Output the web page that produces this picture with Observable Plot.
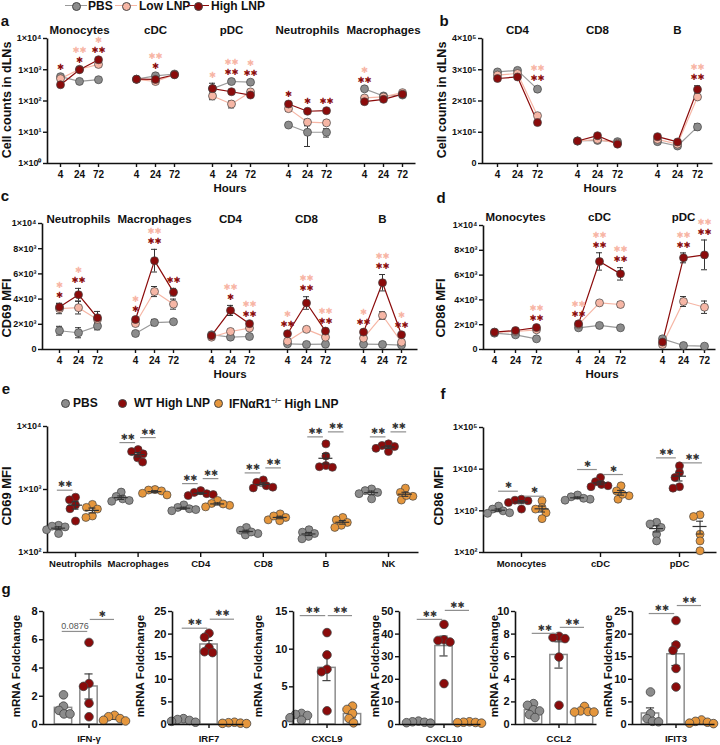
<!DOCTYPE html>
<html><head><meta charset="utf-8">
<script src="https://cdn.jsdelivr.net/npm/d3@7"></script>
<script src="https://cdn.jsdelivr.net/npm/@observablehq/plot@0.6"></script>
<style>
body{margin:0;background:#fff;}
#fig{position:relative;width:720px;height:745px;overflow:hidden;background:#fff;}
.abs{position:absolute;}
</style></head>
<body><div id="fig"></div>
<script>
// ---------------- DATA ----------------
const hours = ["4", "24", "72"];

// panel a: cell counts in dLNs (log)
const aCells = ["Monocytes", "cDC", "pDC", "Neutrophils", "Macrophages"];
const aPBS  = [[600, 424, 480], [500, 640, 730], [250, 420, 400], [17, 10, 10], [245, 145, 155]];
const aLow  = [[520, 1040, 1480], [490, 420, 700], [145, 80, 195], [57, 21, 20], [125, 135, 185]];
const aHigh = [[330, 1000, 2090], [500, 490, 690], [250, 198, 155], [80, 47, 49], [95, 113, 165]];
const aPBSErr  = [[60, 30, 40], [40, 60, 60], [120, 40, 40], [2, 6.5, 3], [20, 15, 15]];
const aLowErr  = [[60, 80, 150], [40, 50, 50], [35, 20, 40], [10, 5, 3], [15, 10, 15]];
const aHighErr = [[40, 80, 200], [40, 50, 50], [40, 30, 25], [10, 6, 4], [15, 10, 15]];
const aStars = [
  ["Monocytes", "4", "high", "*"], ["Monocytes", "24", "high", "*"], ["Monocytes", "24", "low", "**"],
  ["Monocytes", "72", "high", "**"], ["Monocytes", "72", "low", "*"],
  ["cDC", "24", "high", "*"], ["cDC", "24", "low", "**"],
  ["pDC", "4", "low", "*"], ["pDC", "24", "high", "**"], ["pDC", "24", "low", "**"],
  ["pDC", "72", "high", "**"], ["pDC", "72", "low", "*"],
  ["Neutrophils", "4", "high", "*"], ["Neutrophils", "24", "high", "*"], ["Neutrophils", "72", "high", "**"],
  ["Macrophages", "4", "high", "**"], ["Macrophages", "4", "low", "*"]
];

// panel b: cell counts (linear)
const bCells = ["CD4", "CD8", "B"];
const bPBS  = [[2.93e5, 2.98e5, 2.38e5], [0.72e5, 0.74e5, 0.70e5], [0.70e5, 0.56e5, 1.17e5]];
const bLow  = [[2.83e5, 2.88e5, 1.53e5], [0.72e5, 0.77e5, 0.65e5], [0.77e5, 0.62e5, 2.13e5]];
const bHigh = [[2.72e5, 2.77e5, 1.31e5], [0.72e5, 0.89e5, 0.62e5], [0.86e5, 0.69e5, 2.37e5]];
const bPBSErr  = [[6e3, 5e3, 8e3], [4e3, 4e3, 4e3], [4e3, 4e3, 1e4]];
const bLowErr  = [[5e3, 5e3, 6e3], [3e3, 4e3, 4e3], [4e3, 4e3, 6e3]];
const bHighErr = [[5e3, 5e3, 6e3], [3e3, 4e3, 4e3], [4e3, 4e3, 1.2e4]];
const bStars = [["CD4", "72", "high", "**"], ["CD4", "72", "low", "**"], ["B", "72", "high", "**"], ["B", "72", "low", "**"]];

// panel c: CD69 MFI
const cCells = ["Neutrophils", "Macrophages", "CD4", "CD8", "B"];
const cPBS  = [[1490, 1330, 1860], [1270, 2140, 2200], [1170, 980, 1030], [450, 400, 420], [420, 400, 350]];
const cLow  = [[3240, 3320, 2390], [2060, 4600, 3600], [980, 1430, 1700], [660, 1600, 980], [900, 2700, 580]];
const cHigh = [[3370, 4350, 2520], [2380, 7050, 4550], [1100, 3100, 2050], [1250, 3690, 1460], [1380, 5300, 1170]];
const cPBSErr  = [[350, 400, 300], [100, 250, 100], [100, 100, 100], [50, 50, 50], [50, 50, 50]];
const cLowErr  = [[400, 500, 300], [150, 400, 400], [100, 100, 150], [100, 100, 100], [100, 300, 100]];
const cHighErr = [[300, 500, 500], [150, 900, 300], [100, 400, 150], [150, 500, 150], [150, 650, 100]];
const cStars = [
  ["Neutrophils", "4", "high", "*"], ["Neutrophils", "4", "low", "*"],
  ["Neutrophils", "24", "high", "**"], ["Neutrophils", "24", "low", "*"],
  ["Macrophages", "4", "high", "*"], ["Macrophages", "4", "low", "*"],
  ["Macrophages", "24", "high", "**"], ["Macrophages", "24", "low", "**"],
  ["Macrophages", "72", "high", "**"],
  ["CD4", "24", "high", "*"], ["CD4", "24", "low", "**"],
  ["CD4", "72", "high", "**"], ["CD4", "72", "low", "**"],
  ["CD8", "4", "high", "**"], ["CD8", "4", "low", "*"],
  ["CD8", "24", "high", "**"], ["CD8", "24", "low", "**"],
  ["CD8", "72", "high", "**"], ["CD8", "72", "low", "**"],
  ["B", "4", "high", "**"], ["B", "4", "low", "*"],
  ["B", "24", "high", "**"], ["B", "24", "low", "**"],
  ["B", "72", "high", "**"], ["B", "72", "low", "*"]
];

// panel d: CD86 MFI
const dCells = ["Monocytes", "cDC", "pDC"];
const dPBS  = [[1320, 1180, 860], [1750, 1940, 1750], [860, 320, 270]];
const dLow  = [[1400, 1450, 1590], [2000, 3760, 3630], [400, 3870, 3410]];
const dHigh = [[1400, 1530, 1770], [2070, 7100, 6100], [600, 7390, 7630]];
const dPBSErr  = [[100, 100, 100], [100, 100, 100], [100, 80, 80]];
const dLowErr  = [[100, 100, 100], [150, 150, 200], [80, 400, 500]];
const dHighErr = [[100, 100, 100], [150, 700, 500], [100, 400, 1200]];
const dStars = [
  ["Monocytes", "72", "high", "**"], ["Monocytes", "72", "low", "**"],
  ["cDC", "4", "high", "**"], ["cDC", "4", "low", "**"],
  ["cDC", "24", "high", "**"], ["cDC", "24", "low", "**"],
  ["cDC", "72", "high", "**"], ["cDC", "72", "low", "**"],
  ["pDC", "24", "high", "**"], ["pDC", "24", "low", "**"],
  ["pDC", "72", "high", "**"], ["pDC", "72", "low", "**"]
];

// panel e: CD69 MFI, per-mouse values
const eCats = ["Neutrophils", "Macrophages", "CD4", "CD8", "B", "NK"];
const ePBS = [[270, 255, 230, 200, 262], [910, 775, 710, 670, 650], [570, 520, 495, 460, 480], [250, 225, 200, 190, 212], [230, 210, 200, 180, 165], [1020, 960, 860, 710, 900]];
const eWT  = [[755, 685, 570, 495, 315], [4300, 4000, 3680, 3180, 2720], [960, 900, 860, 800, 830], [1420, 1300, 1150, 1090, 1060], [5300, 3400, 2400, 2250, 2300], [5300, 5000, 4500, 4000, 4800]];
const eIFN = [[580, 520, 490, 380, 360], [1000, 980, 950, 870, 820], [670, 600, 560, 530, 590], [410, 360, 320, 330, 380], [360, 330, 300, 270, 250], [1050, 900, 780, 680, 800]];
const eSigL = ["**", "**", "**", "**", "**", "**"];
const eSigR = ["", "**", "**", "**", "**", "**"];

// panel f: CD86 MFI, per-mouse values
const fCats = ["Monocytes", "cDC", "pDC"];
const fPBS = [[1300, 1100, 1000, 900, 870], [2400, 2170, 1900, 1800, 2000], [530, 480, 400, 275, 190]];
const fWT  = [[1900, 1800, 1740, 1580, 1100], [6300, 5000, 4300, 4000, 3800], [12000, 8300, 6300, 3800, 3500]];
const fIFN = [[1740, 1200, 1100, 900, 650], [3980, 3000, 2300, 1900, 2500], [800, 730, 275, 190, 110]];
const fSigL = ["*", "*", "**"];
const fSigR = ["*", "*", "**"];

// panel g: mRNA fold change
const genes = ["IFN-γ", "IRF7", "CXCL9", "CXCL10", "CCL2", "IFIT3"];
const gMax = [8, 25, 15, 50, 10, 25];
const gTicks = [[0, 2, 4, 6, 8], [0, 5, 10, 15, 20, 25], [0, 5, 10, 15], [0, 10, 20, 30, 40, 50], [0, 2, 4, 6, 8, 10], [0, 5, 10, 15, 20, 25]];
const gPBS = [[2.1, 1.3, 1.0, 0.75, 0.75], [1.3, 1.1, 0.9, 0.7, 0.5], [1.47, 1.33, 1.2, 0.9, 0.58], [1.5, 1.2, 1.0, 0.8, 0.6], [1.85, 1.7, 1.3, 1.2, 0.88, 0.62], [7.2, 2.4, 1.3, 0.7, 0.6]];
const gWT  = [[5.81, 2.9, 2.7, 1.5, 0.55], [20.2, 19.3, 17.0, 16.1, 15.9], [12.2, 9.24, 7.33, 7.0, 1.82], [44.3, 37.5, 37.2, 36.5, 18.1], [7.8, 7.7, 7.6, 5.97, 1.7], [23.0, 17.6, 16.4, 12.4, 8.3]];
const gIFN = [[0.65, 0.55, 0.42, 0.3, 0.25], [0.5, 0.4, 0.3, 0.25, 0.2], [2.44, 2.0, 1.47, 0.8, 0.22], [1.2, 1.0, 0.9, 0.8, 0.6], [1.6, 1.2, 1.15, 1.1, 1.1], [1.0, 0.7, 0.5, 0.3, 0.2]];
const gSigL = ["0.0876", "**", "**", "**", "**", "**"];
const gSigR = ["*", "**", "**", "**", "**", "**"];

// ---------------- STYLE / LAYOUT ----------------
const FONT = '"Liberation Sans", Arial, Helvetica, sans-serif';
const baseStyle = {background: "none", overflow: "visible", fontFamily: FONT, color: "#111", maxWidth: "none"};
const COL = {PBS: "#8c8c8c", Low: "#f6b6a5", High: "#8b0b0b"};
const LINECOL = {PBS: "#9a9a9a", Low: "#f6b6a5", High: "#8b0b0b"};
const STARCOL = {low: "#f7b4a4", high: "#8b0b0b"};
const GCOL = ["#8c8c8c", "#8b0b0b", "#e5963c"];
const SUP = {"0": "⁰", "1": "¹", "2": "²", "3": "³", "4": "⁴", "5": "⁵"};
const sci = (m, e) => `${m}×10${SUP[e]}`;
const fig = document.getElementById("fig");
const STAR_FONT = '"DejaVu Sans", sans-serif';
const starTxt = t => t.replace(/\*/g, "✱");

function mount(svg, left, top) {
  const d = document.createElement("div");
  d.className = "abs";
  d.style.left = left + "px"; d.style.top = top + "px";
  d.appendChild(svg); fig.appendChild(d);
}
function label(txt, x, y, o = {}) {
  const {size = 12, weight = "bold", rotate = false, color = "#111", html = false, anchor = "center"} = o;
  const d = document.createElement("div");
  const tx = anchor === "left" ? "0" : "-50%";
  d.style.cssText = `position:absolute;left:${x}px;top:${y}px;font-family:${FONT};font-weight:${weight};font-size:${size}px;color:${color};white-space:nowrap;line-height:1;transform:translate(${tx},-50%)${rotate ? " rotate(-90deg)" : ""};`;
  if (html) d.innerHTML = txt; else d.textContent = txt;
  fig.appendChild(d);
}
function legendGlyph(x, y, color, withLine) {
  if (withLine) {
    const ln = document.createElement("div");
    ln.style.cssText = `position:absolute;left:${x - 11}px;top:${y - 0.6}px;width:22px;height:0;border-top:1.3px solid ${color === COL.PBS ? LINECOL.PBS : color};`;
    fig.appendChild(ln);
  }
  const c = document.createElement("div");
  c.style.cssText = `position:absolute;left:${x - 4.5}px;top:${y - 4.5}px;width:7.4px;height:7.4px;border-radius:50%;background:${color};border:0.8px solid #444;`;
  fig.appendChild(c);
}
function swarm(pys, minD) {
  const order = d3.range(pys.length).sort((a, b) => pys[a] - pys[b]);
  const placed = [], out = new Array(pys.length).fill(0);
  for (const i of order) {
    let best = 0;
    for (let k = 0; k < 80; k++) {
      const o = (k % 2 ? -1 : 1) * Math.ceil(k / 2) * 0.5;
      if (placed.every(([px, py]) => (px - o) ** 2 + (py - pys[i]) ** 2 >= minD * minD)) { best = o; break; }
    }
    placed.push([best, pys[i]]); out[i] = best;
  }
  return out;
}
function edgeFrame(W, H) {
  const P = W + H;
  return Plot.frame({stroke: "#111", strokeWidth: 1.6, strokeDasharray: `0 ${P} ${P}`});
}

// ---------------- time-course panels (a-d) ----------------
function timePanel(o) {
  const rows = [];
  o.cells.forEach((c, ci) => hours.forEach((h, hi) => {
    [["PBS", o.pbs, o.pbsErr], ["Low", o.low, o.lowErr], ["High", o.high, o.highErr]].forEach(([s, v, e]) => {
      rows.push({cell: c, hour: h, key: c + "|" + h, series: s, value: v[ci][hi], err: e[ci][hi]});
    });
  }));
  const keys = o.cells.flatMap((c, i) => [...(i ? ["gap" + i] : []), ...hours.map(h => c + "|" + h)]);
  const tickKeys = keys.filter(k => !k.startsWith("gap"));
  const topv = d3.rollup(rows, v => d3.max(v, d => d.value + d.err), d => d.key);
  const slot0 = [], slot1 = [];
  d3.group(o.stars.map(([c, h, s, t]) => ({key: c + "|" + h, s, t})), d => d.key).forEach((arr, k) => {
    arr.sort((a, b) => (a.s === "high" ? 0 : 1) - (b.s === "high" ? 0 : 1));
    arr.forEach((d, i) => (i ? slot1 : slot0).push({...d, y: topv.get(k)}));
  });
  const {l, r, t, b} = o.frame;
  const ml = 50, mr = 8, mt = 40, mb = 24;
  const W = r - l, H = b - t;
  const lo = o.yType === "log" ? v => Math.max(v, o.yDomain[0] * 1.02) : v => v;
  const starOpts = {x: "key", y: "y", text: d => starTxt(d.t), fill: d => STARCOL[d.s], fontSize: 8.5, fontFamily: STAR_FONT};
  const plot = Plot.plot({
    width: W + ml + mr, height: H + mt + mb,
    marginLeft: ml, marginRight: mr, marginTop: mt, marginBottom: mb,
    style: baseStyle,
    x: {type: "point", domain: keys, padding: o.pad},
    y: {type: o.yType, domain: o.yDomain},
    color: {type: "identity"},
    marks: [
      edgeFrame(W, H),
      Plot.axisY({ticks: o.yTicks, tickFormat: o.yFmt, tickSize: 4, tickPadding: 2, fontSize: 9, fontWeight: "bold", label: null, strokeWidth: 1.4}),
      Plot.axisX({ticks: tickKeys, tickFormat: k => k.split("|")[1], tickSize: 4, tickPadding: 3, fontSize: 10, fontWeight: "bold", label: null, strokeWidth: 1.4}),
      Plot.line(rows, {x: "key", y: "value", z: d => d.series + d.cell, stroke: d => LINECOL[d.series], strokeWidth: 1.2}),
      Plot.ruleX(rows, {x: "key", y1: d => lo(d.value - d.err), y2: d => d.value + d.err, stroke: "#333", strokeWidth: 1}),
      Plot.ruleY(rows, {x1: "key", x2: "key", y: d => d.value + d.err, insetLeft: -3, insetRight: -3, stroke: "#333", strokeWidth: 1}),
      Plot.ruleY(rows, {x1: "key", x2: "key", y: d => lo(d.value - d.err), insetLeft: -3, insetRight: -3, stroke: "#333", strokeWidth: 1}),
      Plot.dot(rows, {x: "key", y: "value", r: 4, fill: d => COL[d.series], stroke: "#444", strokeWidth: 0.7}),
      Plot.text(o.cells, {x: c => c + "|24", text: c => c, frameAnchor: "top", dy: o.titleDy, fontSize: 11.5, fontWeight: "bold", fill: "#111"}),
      Plot.text(slot0, {...starOpts, dy: -8}),
      Plot.text(slot1, {...starOpts, dy: -18})
    ]
  });
  mount(plot, l - ml, t - mt);
}

const fmtLog = d => sci(1, Math.round(Math.log10(d)));
const fmt1e5 = d => d === 0 ? "0" : sci(d / 1e5, 5);
const fmt1e3 = d => d === 0 ? "0" : d >= 1e4 ? sci(1, 4) : sci(d / 1e3, 3);

timePanel({cells: aCells, pbs: aPBS, low: aLow, high: aHigh, pbsErr: aPBSErr, lowErr: aLowErr, highErr: aHighErr, stars: aStars,
  yType: "log", yDomain: [1, 1e4], yTicks: [1, 10, 100, 1000, 10000], yFmt: fmtLog,
  frame: {l: 47, r: 415, t: 38, b: 163}, pad: 0.46, titleDy: -13});
timePanel({cells: bCells, pbs: bPBS, low: bLow, high: bHigh, pbsErr: bPBSErr, lowErr: bLowErr, highErr: bHighErr, stars: bStars,
  yType: "linear", yDomain: [0, 4e5], yTicks: [0, 1e5, 2e5, 3e5, 4e5], yFmt: fmt1e5,
  frame: {l: 482, r: 712, t: 38, b: 163}, pad: 0.5, titleDy: -13});
timePanel({cells: cCells, pbs: cPBS, low: cLow, high: cHigh, pbsErr: cPBSErr, lowErr: cLowErr, highErr: cHighErr, stars: cStars,
  yType: "linear", yDomain: [0, 1e4], yTicks: [0, 2e3, 4e3, 6e3, 8e3, 1e4], yFmt: fmt1e3,
  frame: {l: 42, r: 417, t: 223, b: 349}, pad: 0.67, titleDy: -9});
timePanel({cells: dCells, pbs: dPBS, low: dLow, high: dHigh, pbsErr: dPBSErr, lowErr: dLowErr, highErr: dHighErr, stars: dStars,
  yType: "linear", yDomain: [0, 1e4], yTicks: [0, 2e3, 4e3, 6e3, 8e3, 1e4], yFmt: fmt1e3,
  frame: {l: 483, r: 715, t: 225, b: 349}, pad: 0.52, titleDy: -13});

// ---------------- dot panels (e, f) ----------------
function dotPanel(o) {
  const {l, r, t, b, x0, unit} = o.frame;
  const W = r - l, H = b - t;
  const xDomain = [-(x0 - l) / unit, (r - x0) / unit];
  const ys = d3.scaleLog(o.yDomain, [H, 0]);
  const groups = [o.pbs, o.wt, o.ifn];
  const rows = [], stats = [], brL = [], brR = [];
  o.cats.forEach((c, i) => {
    groups.forEach((arr, gi) => {
      const vals = arr[i];
      const offs = swarm(vals.map(v => ys(v)), 6.5);
      const cx = i + o.off[gi];
      vals.forEach((v, k) => rows.push({gi, v, x: cx + offs[k] / unit}));
      const m = d3.mean(vals), s = d3.deviation(vals) / Math.sqrt(vals.length);
      stats.push({cx, m, lo: m - s, hi: m + s});
    });
    const mx = groups.map(a => d3.max(a[i]));
    if (o.sigL[i]) brL.push({x1: i - 0.29, x2: i - 0.04, y: Math.max(mx[0], mx[1]), t: o.sigL[i]});
    if (o.sigR[i]) brR.push({x1: i + 0.04, x2: i + 0.29, y: Math.max(mx[1], mx[2]), t: o.sigR[i]});
  });
  const hw = 7 / unit, cw = 3.5 / unit;
  const ml = 50, mr = 8, mt = 30, mb = 24;
  const sigMarks = (arr, dy) => [
    Plot.ruleY(arr, {x1: "x1", x2: "x2", y: "y", dy, stroke: "#8f8f8f", strokeWidth: 1.2}),
    Plot.text(arr, {x: d => (d.x1 + d.x2) / 2, y: "y", text: d => starTxt(d.t), dy: dy - 5.5, fontSize: 8.5, fontFamily: STAR_FONT, fill: "#333"})
  ];
  const plot = Plot.plot({
    width: W + ml + mr, height: H + mt + mb,
    marginLeft: ml, marginRight: mr, marginTop: mt, marginBottom: mb,
    style: baseStyle,
    x: {type: "linear", domain: xDomain},
    y: {type: "log", domain: o.yDomain},
    color: {type: "identity"},
    marks: [
      edgeFrame(W, H),
      Plot.axisY({ticks: o.yTicks, tickFormat: fmtLog, tickSize: 4, tickPadding: 2, fontSize: 9, fontWeight: "bold", label: null, strokeWidth: 1.4}),
      Plot.axisX({ticks: d3.range(o.cats.length), tickFormat: i => o.cats[i], tickSize: 5, tickPadding: 3, fontSize: 9.5, fontWeight: "bold", label: null, strokeWidth: 1.4}),
      Plot.dot(rows, {x: "x", y: "v", r: 4, fill: d => GCOL[d.gi], stroke: "#444", strokeWidth: 0.7}),
      Plot.ruleY(stats, {x1: d => d.cx - hw, x2: d => d.cx + hw, y: "m", stroke: "#333", strokeWidth: 1.2}),
      Plot.ruleX(stats, {x: "cx", y1: "lo", y2: "hi", stroke: "#333", strokeWidth: 1.1}),
      Plot.ruleY(stats, {x1: d => d.cx - cw, x2: d => d.cx + cw, y: "hi", stroke: "#333", strokeWidth: 1.1}),
      Plot.ruleY(stats, {x1: d => d.cx - cw, x2: d => d.cx + cw, y: "lo", stroke: "#333", strokeWidth: 1.1}),
      ...sigMarks(brL, o.dyL),
      ...sigMarks(brR, o.dyR)
    ]
  });
  mount(plot, l - ml, t - mt);
}
dotPanel({cats: eCats, pbs: ePBS, wt: eWT, ifn: eIFN, sigL: eSigL, sigR: eSigR, yDomain: [1e2, 1e4], yTicks: [1e2, 1e3, 1e4],
  frame: {l: 47, r: 418, t: 426, b: 552, x0: 75, unit: 62.6}, off: [-0.27, 0, 0.27], dyL: -7, dyR: -12});
dotPanel({cats: fCats, pbs: fPBS, wt: fWT, ifn: fIFN, sigL: fSigL, sigR: fSigR, yDomain: [1e2, 1e5], yTicks: [1e2, 1e3, 1e4, 1e5],
  frame: {l: 483, r: 716, t: 427, b: 552, x0: 521, unit: 79}, off: [-0.29, 0, 0.26], dyL: -8, dyR: -3});

// ---------------- bar charts (g) ----------------
const gLayout = [
  {ax: 43, x0: 63, r: 122, yl: 17, bl: -11, br: -23},
  {ax: 172, x0: 183, r: 243, yl: 141, bl: -5, br: -14},
  {ax: 293, x0: 301, r: 360, yl: 259, bl: -17, br: -17},
  {ax: 399, x0: 418, r: 480, yl: 376, bl: -5, br: -14},
  {ax: 515, x0: 533, r: 596, yl: 495, bl: -3, br: -9},
  {ax: 632, x0: 650, r: 714, yl: 609, bl: -7, br: -15}
];
function barChart(gi) {
  const L = gLayout[gi];
  const t = 611, b = 724, l = L.ax, r = L.r;
  const W = r - l, H = b - t, unit = 25.5;
  const xDomain = [-(L.x0 - l) / unit, (r - L.x0) / unit];
  const ys = d3.scaleLinear([0, gMax[gi]], [H, 0]);
  const groups = [gPBS[gi], gWT[gi], gIFN[gi]];
  const rows = [], stats = [];
  groups.forEach((vals, k) => {
    const offs = swarm(vals.map(v => ys(v)), 6);
    vals.forEach((v, j) => rows.push({k, v, x: k + offs[j] / unit}));
    const m = d3.mean(vals), s = d3.deviation(vals) / Math.sqrt(vals.length);
    stats.push({k, m, lo: m - s, hi: m + s});
  });
  const mx = groups.map(v => d3.max(v));
  const brs = [
    {x1: -0.05, x2: 0.95, y: Math.max(mx[0], mx[1]), t: gSigL[gi], dy: L.bl},
    {x1: 1.05, x2: 2.0, y: Math.max(mx[1], mx[2]), t: gSigR[gi], dy: L.br}
  ];
  const ml = 30, mr = 6, mt = 30, mb = 24;
  const brMarks = brs.flatMap(br => {
    const isNum = /\d/.test(br.t);
    return [
      Plot.ruleY([br], {x1: "x1", x2: "x2", y: "y", dy: br.dy, stroke: "#8f8f8f", strokeWidth: 1.2}),
      isNum
        ? Plot.text([br], {x: d => (d.x1 + d.x2) / 2, y: "y", text: "t", dy: br.dy - 2, lineAnchor: "bottom", fontSize: 9, fill: "#555"})
        : Plot.text([br], {x: d => (d.x1 + d.x2) / 2, y: "y", text: d => starTxt(d.t), dy: br.dy - 5.5, fontSize: 8.5, fontFamily: STAR_FONT, fill: "#333"})
    ];
  });
  const plot = Plot.plot({
    width: W + ml + mr, height: H + mt + mb,
    marginLeft: ml, marginRight: mr, marginTop: mt, marginBottom: mb,
    style: baseStyle,
    x: {type: "linear", domain: xDomain},
    y: {type: "linear", domain: [0, gMax[gi]]},
    color: {type: "identity"},
    marks: [
      Plot.rect(stats, {x1: d => d.k - 0.34, x2: d => d.k + 0.34, y1: 0, y2: "m", fill: "white", stroke: "#8c8c8c", strokeWidth: 1.5}),
      Plot.ruleX(stats, {x: "k", y1: "lo", y2: "hi", stroke: "#333", strokeWidth: 1.1}),
      Plot.ruleY(stats, {x1: d => d.k - 0.16, x2: d => d.k + 0.16, y: "hi", stroke: "#333", strokeWidth: 1.1}),
      Plot.ruleY(stats, {x1: d => d.k - 0.16, x2: d => d.k + 0.16, y: "lo", stroke: "#333", strokeWidth: 1.1}),
      Plot.dot(rows, {x: "x", y: "v", r: 4.3, fill: d => GCOL[d.k], stroke: "#444", strokeWidth: 0.8}),
      edgeFrame(W, H),
      Plot.axisY({ticks: gTicks[gi], tickSize: 4, tickPadding: 2, fontSize: 11, fontWeight: "bold", label: null, strokeWidth: 1.4}),
      Plot.axisX({ticks: [1], tickFormat: () => genes[gi], tickSize: 4, tickPadding: 7, fontSize: 9.5, fontWeight: "bold", label: null, strokeWidth: 1.4}),
      ...brMarks
    ]
  });
  mount(plot, l - ml, t - mt);
  label("mRNA Foldchange", L.yl, 666, {size: 11.5, rotate: true});
}
genes.forEach((g, i) => barChart(i));

// ---------------- text: letters, axis labels, legends ----------------
[["a", 5, 20], ["b", 444, 20], ["c", 5, 195], ["d", 441, 197], ["e", 6, 388], ["f", 443, 393], ["g", 6, 588]]
  .forEach(([t, x, y]) => label(t, x, y, {size: 15}));
label("Hours", 230, 189, {size: 11.5});
label("Hours", 600, 189, {size: 11.5});
label("Hours", 230, 375, {size: 11.5});
label("Hours", 602, 375, {size: 11.5});
label("Cell counts in dLNs", 7, 100, {size: 12.5, rotate: true});
label("Cell counts in dLNs", 442, 100, {size: 12.5, rotate: true});
label("CD69 MFI", 6, 308, {size: 13, rotate: true});
label("CD86 MFI", 440, 308, {size: 13, rotate: true});
label("CD69 MFI", 6, 496, {size: 13, rotate: true});
label("CD86 MFI", 438, 496, {size: 13, rotate: true});

// legend a-d
legendGlyph(76, 6, COL.PBS, true);  label("PBS", 88, 6, {size: 12, anchor: "left"});
legendGlyph(126, 6, COL.Low, true); label("Low LNP", 139, 6, {size: 12, anchor: "left"});
legendGlyph(198, 6, COL.High, true); label("High LNP", 211, 6, {size: 12, anchor: "left"});
// legend e-f
legendGlyph(65, 403, GCOL[0], false); label("PBS", 73, 403, {size: 12, anchor: "left"});
legendGlyph(122, 403, GCOL[1], false); label("WT High LNP", 134, 403, {size: 12, anchor: "left"});
legendGlyph(218, 403, GCOL[2], false);
label('IFNαR1<sup style="font-size:7px;vertical-align:5px">−/−</sup> High LNP', 229, 403, {size: 12, anchor: "left", html: true});
</script>
</body></html>
